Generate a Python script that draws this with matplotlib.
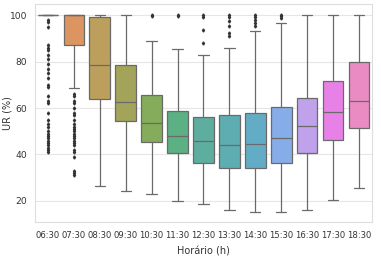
import numpy as np
import matplotlib
matplotlib.use("Agg")
import matplotlib.pyplot as plt
import seaborn as sns

hours = ["06:30", "07:30", "08:30", "09:30", "10:30", "11:30", "12:30",
         "13:30", "14:30", "15:30", "16:30", "17:30", "18:30"]

# box summaries (UR %)
whislo = [100, 68.4, 26.3, 24.4, 22.8, 20.1, 18.5, 16.3, 15.3, 15.2, 16.1, 20.6, 25.7]
q1 = [100, 87.1, 64.0, 54.4, 45.4, 40.5, 36.5, 34.1, 34.4, 36.5, 40.5, 46.4, 51.2]
med = [100, 100, 78.7, 62.5, 53.7, 48.1, 45.7, 44.0, 44.3, 47.3, 52.2, 58.2, 63.0]
q3 = [100, 100, 99.3, 78.4, 65.5, 58.6, 56.0, 57.0, 57.7, 60.5, 64.1, 71.7, 79.6]
whishi = [100, 100, 100, 100, 88.9, 85.6, 82.8, 85.9, 93.1, 96.4, 100, 100, 100]
fliers = [
    [98, 97, 95, 87, 86, 85, 83, 81, 79, 77, 75, 73, 70, 69, 65, 63, 62, 58, 55,
     53, 52, 50, 49, 48, 47, 46, 45, 44, 43, 42, 41],
    [66, 65, 63, 62, 60, 58, 57, 55, 53, 52, 51, 50, 49, 48, 47, 46, 45, 44, 42,
     41, 39, 33, 32, 31],
    [],
    [],
    [100, 99.5],
    [100, 99.6],
    [100, 99, 93.5, 87.8],
    [100, 99, 97.5, 95.3, 92.2, 91.2],
    [100, 99, 97.8, 96.5, 95.5],
    [100, 99.4, 98.6],
    [],
    [],
    [],
]

sns.set_style("whitegrid")
plt.rcParams["font.family"] = ["DejaVu Sans"]

pal = sns.color_palette("husl", len(hours), desat=0.78)
# the reference boxes read a bit lighter
pal = [tuple(0.86 * v + 0.14 for v in c) for c in pal]

stats = []
for i, h in enumerate(hours):
    stats.append({"label": h, "whislo": whislo[i], "q1": q1[i], "med": med[i],
                  "q3": q3[i], "whishi": whishi[i], "fliers": fliers[i]})

fig = plt.figure(figsize=(3.81, 2.58), dpi=100)
ax = fig.add_axes([0.092, 0.140, 0.884, 0.844])

line_c = "#6a6a6a"
bp = ax.bxp(stats, positions=np.arange(len(hours)), widths=0.8, patch_artist=True,
            boxprops=dict(edgecolor=line_c, linewidth=0.9),
            medianprops=dict(color=line_c, linewidth=0.9),
            whiskerprops=dict(color=line_c, linewidth=0.9),
            capprops=dict(color=line_c, linewidth=0.9),
            flierprops=dict(marker="d", markersize=1.6, markerfacecolor="#333333",
                            markeredgecolor="#333333", linestyle="none"))
for patch, c in zip(bp["boxes"], pal):
    patch.set_facecolor(c)
for cap in bp["caps"]:
    x = cap.get_xdata()
    mid = x.mean()
    cap.set_xdata([mid - 0.2, mid + 0.2])

ax.set_xlim(-0.5, len(hours) - 0.5)
ax.set_ylim(11.0, 104.7)
ax.set_yticks([20, 40, 60, 80, 100])
ax.tick_params(axis="y", labelsize=6.6, colors="#333333", pad=2)
ax.tick_params(axis="x", labelsize=6.1, colors="#333333", pad=3)
ax.set_xlabel("Horário (h)", fontsize=7, color="#333333", labelpad=5)
ax.set_ylabel("UR (%)", fontsize=7, color="#333333")
ax.yaxis.set_label_coords(-0.068, 0.5)
ax.xaxis.grid(False)
ax.yaxis.grid(True, color="#e6e6e6", linewidth=0.8)
for s in ax.spines.values():
    s.set_color("#dddddd")

fig.savefig("out.png", dpi=100)
